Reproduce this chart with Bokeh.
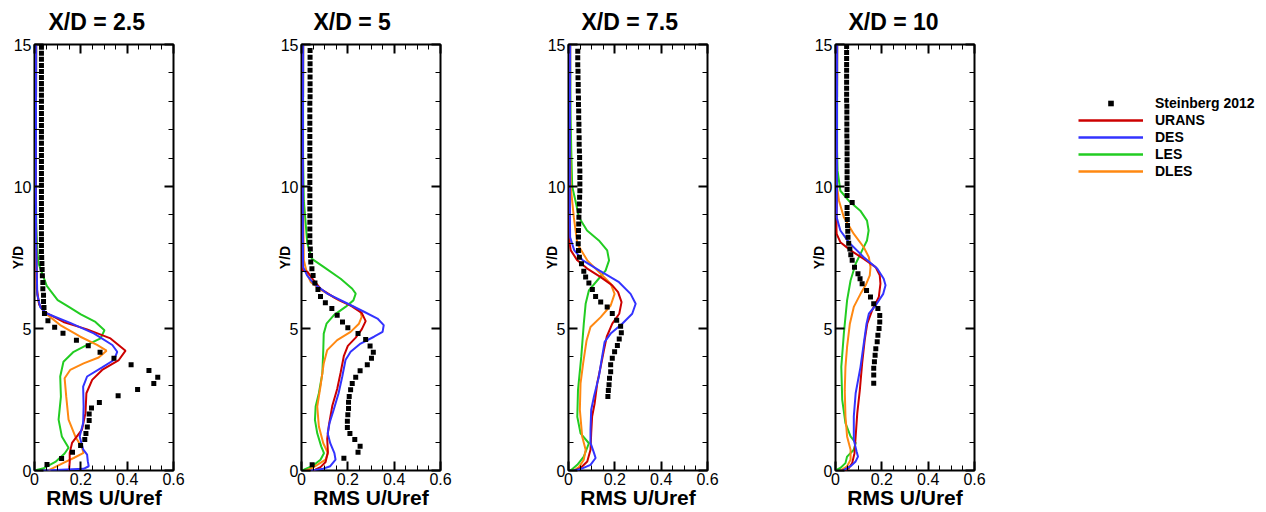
from bokeh.plotting import figure
from bokeh.models import LinearAxis, FixedTicker, Legend, LegendItem, Range1d
from bokeh.layouts import row
from bokeh.embed import file_html
from bokeh.resources import INLINE

# ---------------- data ----------------
titles = ["X/D = 2.5", "X/D = 5", "X/D = 7.5", "X/D = 10"]
series_names = ["Steinberg 2012", "URANS", "DES", "LES", "DLES"]
x_label = "RMS U/Uref"
y_label = "Y/D"
x_ticks = [0, 0.2, 0.4, 0.6]
x_tick_labels = ["0", "0.2", "0.4", "0.6"]
x_minor = [0.05, 0.1, 0.15, 0.25, 0.3, 0.35, 0.45, 0.5, 0.55]
y_ticks = [0, 5, 10, 15]
y_tick_labels = ["0", "5", "10", "15"]
y_minor = [1, 2, 3, 4, 6, 7, 8, 9, 11, 12, 13, 14]

# panel 1 : X/D = 2.5   (x, y) pairs
p1_exp = [(0.03, 14.9), (0.03, 14.69), (0.03, 14.48), (0.03, 14.26), (0.03, 14.05), (0.03, 13.84),
          (0.03, 13.63), (0.03, 13.42), (0.03, 13.21), (0.03, 13.0), (0.03, 12.78), (0.03, 12.57),
          (0.03, 12.36), (0.03, 12.15), (0.03, 11.94), (0.03, 11.73), (0.03, 11.52), (0.03, 11.3),
          (0.03, 11.09), (0.03, 10.88), (0.03, 10.67), (0.03, 10.46), (0.03, 10.25), (0.03, 10.04),
          (0.03, 9.82), (0.03, 9.61), (0.03, 9.4), (0.03, 9.19), (0.03, 8.98), (0.03, 8.77),
          (0.03, 8.56), (0.03, 8.34), (0.03, 8.13), (0.03, 7.92), (0.03, 7.71), (0.031, 7.5),
          (0.032, 7.29), (0.033, 7.08), (0.034, 6.86), (0.036, 6.62), (0.036, 6.4), (0.039, 6.17),
          (0.039, 5.95), (0.041, 5.74), (0.043, 5.53), (0.058, 5.27), (0.087, 5.04), (0.123, 4.83),
          (0.181, 4.59), (0.232, 4.39), (0.283, 4.16), (0.343, 3.95), (0.417, 3.72), (0.494, 3.52),
          (0.532, 3.28), (0.515, 3.06), (0.445, 2.85), (0.361, 2.63), (0.28, 2.39), (0.246, 2.2),
          (0.236, 1.99), (0.236, 1.76), (0.228, 1.53), (0.222, 1.3), (0.217, 1.09), (0.199, 0.88),
          (0.164, 0.64), (0.117, 0.42), (0.054, 0.21)]
p1_urans = [(0.007, 15), (0.006, 10), (0.007, 8), (0.01, 6.4), (0.02, 5.85), (0.045, 5.58),
            (0.125, 5.23), (0.227, 4.97), (0.328, 4.65), (0.393, 4.22), (0.364, 3.89), (0.292, 3.54),
            (0.249, 3.19), (0.224, 2.72), (0.22, 2.02), (0.205, 1.44), (0.162, 0.97), (0.152, 0.62),
            (0.152, 0.3), (0.15, 0.1), (0.147, 0.0)]
p1_des = [(0.007, 15), (0.006, 10), (0.007, 8), (0.012, 6.2), (0.025, 5.75), (0.053, 5.53),
          (0.154, 5.2), (0.256, 4.83), (0.336, 4.42), (0.357, 4.18), (0.343, 3.89), (0.292, 3.63),
          (0.227, 3.31), (0.21, 2.95), (0.212, 2.25), (0.21, 1.67), (0.195, 1.2), (0.21, 0.74),
          (0.227, 0.56), (0.23, 0.33), (0.234, 0.15), (0.212, 0.06), (0.067, 0.01), (0.03, 0.0)]
p1_les = [(0.007, 15), (0.006, 10), (0.008, 8.5), (0.012, 7.8), (0.017, 7.3), (0.053, 6.5),
          (0.1, 6.0), (0.15, 5.75), (0.2, 5.5), (0.263, 5.23), (0.302, 4.94), (0.285, 4.65),
          (0.227, 4.42), (0.169, 4.18), (0.125, 3.83), (0.111, 3.31), (0.114, 2.6), (0.104, 1.79),
          (0.118, 1.2), (0.147, 0.8), (0.13, 0.6), (0.09, 0.3), (0.04, 0.08), (0.0, 0.0)]
p1_dles = [(0.007, 15), (0.006, 10), (0.007, 8), (0.01, 6.3), (0.02, 5.85), (0.045, 5.55),
           (0.111, 5.12), (0.198, 4.71), (0.27, 4.42), (0.311, 4.22), (0.277, 3.98), (0.212, 3.77),
           (0.154, 3.54), (0.13, 3.25), (0.137, 2.6), (0.147, 1.79), (0.176, 1.2), (0.205, 0.8),
           (0.212, 0.62), (0.169, 0.44), (0.125, 0.27), (0.082, 0.09), (0.06, 0.0)]

# panel 2 : X/D = 5
p2_exp = [(0.037, 14.79), (0.037, 14.55), (0.037, 14.32), (0.037, 14.09), (0.037, 13.86), (0.037, 13.62),
          (0.037, 13.39), (0.037, 13.16), (0.036, 12.93), (0.036, 12.69), (0.036, 12.46), (0.036, 12.23),
          (0.036, 12.0), (0.036, 11.76), (0.036, 11.53), (0.036, 11.3), (0.036, 11.07), (0.036, 10.83),
          (0.036, 10.6), (0.036, 10.37), (0.036, 10.14), (0.036, 9.9), (0.036, 9.67), (0.036, 9.44),
          (0.036, 9.21), (0.036, 8.97), (0.036, 8.74), (0.036, 8.5), (0.036, 8.27), (0.036, 8.04),
          (0.038, 7.8), (0.039, 7.57), (0.04, 7.34), (0.045, 7.1), (0.05, 6.87), (0.058, 6.6),
          (0.071, 6.37), (0.082, 6.13), (0.103, 5.91), (0.131, 5.7), (0.154, 5.47), (0.177, 5.23),
          (0.2, 5.03), (0.244, 4.82), (0.277, 4.61), (0.296, 4.38), (0.31, 4.16), (0.302, 3.95),
          (0.284, 3.72), (0.253, 3.51), (0.234, 3.28), (0.219, 3.06), (0.212, 2.84), (0.206, 2.61),
          (0.203, 2.4), (0.203, 2.18), (0.2, 1.96), (0.198, 1.73), (0.198, 1.51), (0.209, 1.3),
          (0.23, 1.09), (0.253, 0.85), (0.244, 0.64), (0.183, 0.43), (0.046, 0.2)]
p2_urans = [(0.007, 15), (0.006, 10), (0.005, 8), (0.004, 7.05), (0.025, 7.0), (0.053, 6.69),
            (0.082, 6.4), (0.144, 6.08), (0.216, 5.79), (0.26, 5.55), (0.277, 5.26), (0.26, 4.97),
            (0.234, 4.68), (0.2, 4.39), (0.183, 4.04), (0.169, 3.45), (0.154, 2.87), (0.133, 2.28),
            (0.118, 1.58), (0.111, 1.11), (0.114, 0.65), (0.104, 0.3), (0.082, 0.12), (0.06, 0.03),
            (0.05, 0.0)]
p2_des = [(0.007, 15), (0.006, 10), (0.006, 8), (0.007, 7.16), (0.024, 6.87), (0.053, 6.58),
          (0.111, 6.23), (0.198, 5.88), (0.27, 5.59), (0.328, 5.35), (0.355, 5.12), (0.35, 4.88),
          (0.313, 4.71), (0.255, 4.47), (0.212, 4.18), (0.19, 3.89), (0.176, 3.31), (0.16, 2.72),
          (0.139, 2.14), (0.121, 1.67), (0.113, 1.31), (0.124, 0.96), (0.142, 0.61), (0.147, 0.38),
          (0.124, 0.15), (0.088, 0.05), (0.04, 0.0)]
p2_les = [(0.007, 15), (0.007, 11), (0.01, 9.5), (0.025, 8.0), (0.045, 7.45), (0.097, 7.16),
          (0.169, 6.75), (0.219, 6.4), (0.234, 6.23), (0.224, 5.99), (0.19, 5.76), (0.14, 5.47),
          (0.108, 5.17), (0.096, 4.82), (0.094, 4.24), (0.09, 3.42), (0.075, 2.72), (0.061, 2.25),
          (0.058, 1.78), (0.068, 1.31), (0.085, 0.85), (0.097, 0.61), (0.082, 0.38), (0.046, 0.15),
          (0.01, 0.03), (0.0, 0.0)]
p2_dles = [(0.007, 15), (0.006, 10), (0.01, 7.4), (0.025, 6.9), (0.04, 6.63), (0.09, 6.33),
           (0.162, 5.99), (0.227, 5.76), (0.255, 5.58), (0.26, 5.41), (0.248, 5.17), (0.212, 4.88),
           (0.154, 4.59), (0.111, 4.24), (0.096, 3.77), (0.082, 2.96), (0.068, 2.25), (0.075, 1.55),
           (0.094, 0.96), (0.114, 0.61), (0.104, 0.38), (0.068, 0.2), (0.04, 0.06), (0.017, 0.0)]

# panel 3 : X/D = 7.5
p3_exp = [(0.04, 14.76), (0.04, 14.53), (0.04, 14.29), (0.041, 14.06), (0.041, 13.83), (0.042, 13.59),
          (0.042, 13.36), (0.043, 13.12), (0.043, 12.89), (0.044, 12.66), (0.044, 12.42), (0.045, 12.19),
          (0.045, 11.96), (0.046, 11.72), (0.046, 11.49), (0.047, 11.25), (0.048, 11.02), (0.048, 10.79),
          (0.049, 10.55), (0.049, 10.32), (0.049, 10.09), (0.049, 9.85), (0.048, 9.62), (0.047, 9.38),
          (0.046, 9.15), (0.045, 8.92), (0.044, 8.68), (0.043, 8.45), (0.043, 8.22), (0.042, 7.98),
          (0.043, 7.75), (0.047, 7.51), (0.056, 7.28), (0.066, 7.02), (0.074, 6.81), (0.088, 6.6),
          (0.103, 6.37), (0.117, 6.13), (0.139, 5.93), (0.167, 5.76), (0.189, 5.53), (0.208, 5.29),
          (0.225, 5.08), (0.228, 4.85), (0.219, 4.63), (0.211, 4.4), (0.199, 4.18), (0.189, 3.95),
          (0.182, 3.72), (0.182, 3.48), (0.177, 3.25), (0.175, 3.02), (0.172, 2.82), (0.17, 2.61)]
p3_urans = [(0.007, 15), (0.006, 11), (0.004, 8.5), (0.005, 7.98), (0.01, 7.75), (0.038, 7.4),
            (0.081, 7.11), (0.139, 6.81), (0.189, 6.52), (0.214, 6.28), (0.229, 5.93), (0.219, 5.52),
            (0.189, 5.17), (0.165, 4.71), (0.153, 4.24), (0.139, 3.66), (0.124, 3.07), (0.113, 2.37),
            (0.102, 1.9), (0.098, 1.31), (0.095, 0.73), (0.081, 0.32), (0.052, 0.09), (0.03, 0.0)]
p3_des = [(0.007, 15), (0.006, 11), (0.006, 9), (0.007, 8.21), (0.025, 7.75), (0.062, 7.4),
          (0.134, 7.04), (0.218, 6.63), (0.268, 6.22), (0.29, 5.87), (0.275, 5.52), (0.232, 5.17),
          (0.182, 4.82), (0.156, 4.53), (0.145, 4.0), (0.131, 3.3), (0.11, 2.61), (0.098, 2.14),
          (0.095, 1.44), (0.095, 0.97), (0.11, 0.62), (0.117, 0.44), (0.095, 0.2), (0.052, 0.05),
          (0.023, 0.0)]
p3_les = [(0.007, 15), (0.009, 12.5), (0.012, 11.25), (0.016, 10.0), (0.03, 9.5), (0.045, 8.92),
          (0.08, 8.45), (0.131, 8.1), (0.167, 7.75), (0.175, 7.4), (0.16, 7.04), (0.124, 6.69),
          (0.088, 6.34), (0.074, 5.87), (0.066, 5.17), (0.055, 4.0), (0.041, 2.83), (0.038, 1.89),
          (0.052, 1.31), (0.088, 0.96), (0.066, 0.49), (0.038, 0.2), (0.009, 0.0)]
p3_dles = [(0.007, 15), (0.007, 11.5), (0.01, 9.96), (0.023, 8.92), (0.038, 7.98), (0.081, 7.4),
           (0.139, 6.93), (0.182, 6.58), (0.199, 6.22), (0.182, 5.81), (0.139, 5.4), (0.095, 5.05),
           (0.078, 4.58), (0.063, 3.76), (0.052, 3.07), (0.049, 2.14), (0.059, 1.2), (0.074, 0.73),
           (0.066, 0.38), (0.045, 0.12), (0.023, 0.0)]

# panel 4 : X/D = 10
p4_exp = [(0.048, 14.93), (0.048, 14.72), (0.048, 14.51), (0.048, 14.3), (0.048, 14.09), (0.048, 13.88),
          (0.048, 13.67), (0.048, 13.46), (0.048, 13.25), (0.048, 13.04), (0.049, 12.83), (0.049, 12.62),
          (0.049, 12.41), (0.049, 12.2), (0.049, 11.99), (0.049, 11.78), (0.05, 11.57), (0.05, 11.36),
          (0.05, 11.15), (0.05, 10.94), (0.05, 10.73), (0.05, 10.52), (0.05, 10.31), (0.05, 10.1),
          (0.05, 9.89), (0.05, 9.68), (0.072, 9.44), (0.05, 9.26), (0.05, 9.05), (0.051, 8.84),
          (0.052, 8.63), (0.053, 8.42), (0.054, 8.21), (0.057, 8.0), (0.062, 7.8), (0.066, 7.6),
          (0.072, 7.4), (0.082, 7.16), (0.097, 6.93), (0.106, 6.75), (0.115, 6.58), (0.134, 6.34),
          (0.151, 6.11), (0.165, 5.87), (0.183, 5.7), (0.191, 5.46), (0.191, 5.23), (0.188, 5.0),
          (0.183, 4.76), (0.18, 4.53), (0.174, 4.29), (0.171, 4.06), (0.168, 3.83), (0.165, 3.6),
          (0.165, 3.36), (0.165, 3.07)]
p4_urans = [(0.007, 15), (0.006, 10), (0.004, 8.5), (0.005, 8.33), (0.021, 8.04), (0.065, 7.75),
            (0.122, 7.45), (0.173, 7.16), (0.191, 6.87), (0.194, 6.58), (0.187, 6.11), (0.158, 5.64),
            (0.137, 5.17), (0.126, 4.59), (0.115, 3.77), (0.105, 2.83), (0.094, 2.02), (0.087, 1.2),
            (0.082, 0.61), (0.072, 0.26), (0.058, 0.09), (0.043, 0.0)]
p4_des = [(0.007, 15), (0.006, 10), (0.005, 8.92), (0.021, 8.45), (0.057, 8.04), (0.122, 7.51),
          (0.18, 7.11), (0.208, 6.75), (0.216, 6.52), (0.206, 6.22), (0.173, 5.81), (0.144, 5.52),
          (0.134, 5.17), (0.122, 4.47), (0.108, 3.65), (0.087, 2.72), (0.079, 1.9), (0.079, 1.08),
          (0.091, 0.67), (0.097, 0.49), (0.087, 0.32), (0.065, 0.15), (0.036, 0.02), (0.03, 0.0)]
p4_les = [(0.007, 15), (0.007, 11.25), (0.009, 10.55), (0.021, 9.85), (0.057, 9.5), (0.107, 9.15),
          (0.136, 8.8), (0.143, 8.45), (0.136, 8.1), (0.115, 7.75), (0.087, 7.28), (0.065, 6.69),
          (0.05, 5.99), (0.036, 4.82), (0.025, 3.65), (0.029, 2.49), (0.043, 1.67), (0.065, 1.2),
          (0.087, 0.97), (0.079, 0.73), (0.05, 0.49), (0.043, 0.26), (0.021, 0.09), (0.0, 0.0)]
p4_dles = [(0.007, 15), (0.006, 11), (0.005, 10.08), (0.015, 9.5), (0.036, 8.92), (0.079, 8.33),
           (0.122, 7.86), (0.144, 7.51), (0.151, 7.16), (0.148, 6.87), (0.13, 6.52), (0.108, 6.22),
           (0.079, 5.76), (0.062, 5.17), (0.05, 4.35), (0.043, 3.65), (0.04, 2.83), (0.043, 1.9),
           (0.05, 1.2), (0.065, 0.73), (0.065, 0.38), (0.05, 0.15), (0.021, 0.0)]

panels = [
    (p1_exp, p1_urans, p1_des, p1_les, p1_dles),
    (p2_exp, p2_urans, p2_des, p2_les, p2_dles),
    (p3_exp, p3_urans, p3_des, p3_les, p3_dles),
    (p4_exp, p4_urans, p4_des, p4_les, p4_dles),
]

# ---------------- style ----------------
FONT = "Liberation Sans"
# colours for URANS, DES, LES, DLES
line_colors = ["#cc0000", "#3333ff", "#22cc22", "#ff8811"]
draw_order = [2, 3, 0, 1]          # LES, DLES, URANS, DES (DES on top)
title_offsets = [14, 12, 13, 13]
left_borders = [34, 30, 30, 30]
right_borders = [98, 98, 98, 86]
FIG_H = 511

x_over = {t: s for t, s in zip(x_ticks, x_tick_labels)}
y_over = {t: s for t, s in zip(y_ticks, y_tick_labels)}


def style_axis(ax, ticks, minor, overrides, show_labels):
    ax.ticker = FixedTicker(ticks=ticks, minor_ticks=minor)
    ax.axis_line_color = None
    ax.major_tick_in = 9
    ax.major_tick_out = 0
    ax.minor_tick_in = 5
    ax.minor_tick_out = 0
    ax.major_tick_line_width = 2
    ax.minor_tick_line_width = 1
    ax.major_tick_line_color = "black"
    ax.minor_tick_line_color = "black"
    if show_labels:
        ax.major_label_overrides = overrides
        ax.major_label_text_font = FONT
        ax.major_label_text_font_size = "16px"
        ax.major_label_text_color = "black"
        ax.major_label_standoff = 3
        ax.axis_label_text_font = FONT
        ax.axis_label_text_font_style = "bold"
        ax.axis_label_text_color = "black"
    else:
        ax.major_label_text_font_size = "0px"
        ax.major_label_standoff = 0


def split(pairs):
    xs, ys = zip(*pairs)
    return list(xs), list(ys)


figs = []
for i, (exp, urans, des, les, dles) in enumerate(panels):
    w = left_borders[i] + 139 + right_borders[i]
    p = figure(width=w, height=FIG_H, output_backend="svg", toolbar_location=None,
               x_range=Range1d(0, 0.6), y_range=Range1d(0, 15),
               min_border_left=left_borders[i], min_border_right=right_borders[i],
               min_border_top=43, min_border_bottom=40,
               title=titles[i], title_location="above")
    p.title.text_font = FONT
    p.title.text_font_size = "23px"
    p.title.text_font_style = "bold"
    p.title.text_color = "black"
    p.title.align = "left"
    p.title.vertical_align = "top"
    p.title.offset = title_offsets[i]
    p.title.standoff = 16

    p.xgrid.visible = False
    p.ygrid.visible = False
    p.outline_line_color = "black"
    p.outline_line_width = 2
    p.background_fill_color = "white"
    p.border_fill_color = "white"

    xa = p.xaxis[0]
    style_axis(xa, x_ticks, x_minor, x_over, True)
    xa.major_label_standoff = 2
    xa.axis_label = x_label
    xa.axis_label_text_font_size = "21px"
    xa.axis_label_standoff = -2

    ya = p.yaxis[0]
    style_axis(ya, y_ticks, y_minor, y_over, True)
    ya.axis_label = y_label
    ya.axis_label_text_font_size = "14px"
    ya.axis_label_standoff = -15

    top = LinearAxis()
    style_axis(top, x_ticks, x_minor, x_over, False)
    p.add_layout(top, "above")
    right = LinearAxis()
    style_axis(right, y_ticks, y_minor, y_over, False)
    p.add_layout(right, "right")

    series = (urans, des, les, dles)
    for k in draw_order:
        xs, ys = split(series[k])
        p.line(xs, ys, line_color=line_colors[k], line_width=2)
    ex, ey = split(exp)
    p.scatter(ex, ey, marker="square", size=5, fill_color="black", line_color=None)
    figs.append(p)

# legend panel: its renderers reuse the X/D = 10 series, kept outside its view ranges,
# so only their legend glyphs are seen
lg = figure(width=200, height=FIG_H, output_backend="svg", toolbar_location=None,
            x_range=Range1d(10, 11), y_range=Range1d(100, 101),
            x_axis_location=None, y_axis_location=None,
            min_border_left=0, min_border_right=0, min_border_top=0, min_border_bottom=0)
lg.xgrid.visible = False
lg.ygrid.visible = False
lg.outline_line_color = None
ex, ey = split(p4_exp)
r_exp = lg.scatter(ex, ey, marker="square", size=5, fill_color="black", line_color=None)
r_lines = []
for data, c in zip((p4_urans, p4_des, p4_les, p4_dles), line_colors):
    xs, ys = split(data)
    r_lines.append(lg.line(xs, ys, line_color=c, line_width=2.5))
items = [LegendItem(label=series_names[0], renderers=[r_exp])]
for name, r in zip(series_names[1:], r_lines):
    items.append(LegendItem(label=name, renderers=[r]))
leg = Legend(items=items, location=(18, 291), orientation="vertical",
             border_line_color=None, background_fill_alpha=0,
             glyph_width=65, glyph_height=14, label_height=14, spacing=1,
             label_standoff=12, padding=0, margin=0,
             label_text_font=FONT, label_text_font_size="14px",
             label_text_font_style="bold", label_text_color="black")
lg.add_layout(leg, "center")
figs.append(lg)

layout = row(*figs, spacing=0)
open("out.html", "w").write(file_html(layout, INLINE))
